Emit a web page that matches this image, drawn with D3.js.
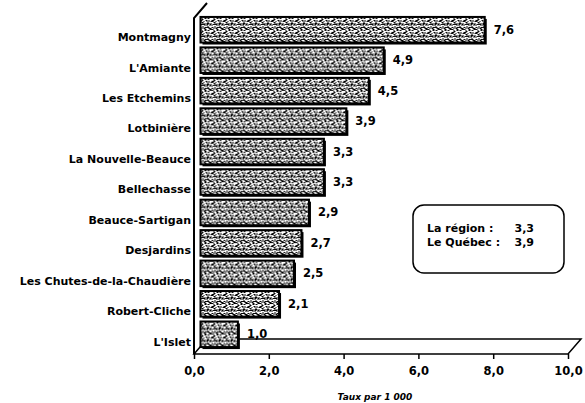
<!DOCTYPE html>
<html>
<head>
<meta charset="utf-8">
<script src="https://cdn.jsdelivr.net/npm/d3@7"></script>
<style>
    body { margin: 0; background: #fff; }
    text { font-family: "DejaVu Sans", "Liberation Sans", Arial, sans-serif; font-weight: bold; fill: #000; }
</style>
</head>
<body>
<div id="chart"></div>
<script>

// data
let regions = ["Montmagny", "L'Amiante", "Les Etchemins", "Lotbinière", "La Nouvelle-Beauce", "Bellechasse",
    "Beauce-Sartigan", "Desjardins", "Les Chutes-de-la-Chaudière", "Robert-Cliche", "L'Islet"];
let taux = [7.6, 4.9, 4.5, 3.9, 3.3, 3.3, 2.9, 2.7, 2.5, 2.1, 1.0];
let xTicks = [0, 2, 4, 6, 8, 10];
let legendLabels = ["La région :", "Le Québec  :"];
let legendValues = [3.3, 3.9];

let fmt = d => d3.format(".1f")(d).replace(".", ",");

let width = 585, height = 403;
let depth = {x: 13, y: -15};

let svg = d3.select("#chart").append("svg")
    .attr("width", width)
    .attr("height", height);

// speckled fill like the scanned bars
let pat = svg.append("defs").append("pattern")
    .attr("id", "speckle")
    .attr("patternUnits", "userSpaceOnUse")
    .attr("width", 12).attr("height", 12);
pat.append("rect").attr("width", 12).attr("height", 12).attr("fill", "#fff");
let dots = [[0,0,2,1],[3,1,1,3],[6,0,2,2],[9,1,2,1],[10,3,1,2],[1,3,2,2],[5,4,1,1],[7,3,2,1],
    [0,6,1,2],[2,7,3,1],[6,6,1,3],[8,6,2,2],[11,7,1,2],[1,10,2,1],[4,9,1,2],[7,10,3,1],
    [10,10,1,2],[3,5,1,1],[9,5,1,1],[5,11,2,1],[0,11,1,1],[8,8,1,1],[4,2,1,1],[2,0,1,1],
    [11,0,1,1],[5,7,1,1],[3,11,1,1],[9,9,1,1],[1,8,1,1],[7,1,1,1],[4,5,1,2],[10,6,1,1],
    [0,4,1,1],[6,10,1,1],[8,4,1,1],[11,11,1,1]];
pat.selectAll("rect.d").data(dots).enter().append("rect")
    .attr("class", "d")
    .attr("x", d => d[0]).attr("y", d => d[1])
    .attr("width", d => d[2]).attr("height", d => d[3])
    .attr("fill", "#000");

let x = d3.scaleLinear()
    .domain([0, 10])
    .range([194, 568]);

let y = d3.scaleBand()
    .domain(regions)
    .range([22, 357]);

let floorY = 354, wallTop = 18;

// floor + wall (3d frame)
let frame = svg.append("g")
    .attr("fill", "none")
    .attr("stroke", "#000")
    .attr("stroke-width", 1.5);

frame.append("path")
    .attr("d", `M${x(0)},${floorY}L${x(10)},${floorY}L${x(10) + depth.x},${floorY + depth.y}L${x(0) + depth.x},${floorY + depth.y}Z`);
frame.append("path")
    .attr("stroke-width", 2)
    .attr("d", `M${x(0) + depth.x},${wallTop + depth.y}L${x(0)},${wallTop}L${x(0)},${floorY}`);

// bars, drawn at mid depth
let barH = y.bandwidth() * 0.84;
let bx = depth.x / 2, by = depth.y / 2;

let bars = svg.append("g").selectAll("g.bar")
    .data(regions)
    .enter()
    .append("g")
    .attr("class", "bar")
    .attr("transform", d => `translate(${bx},${y(d) + y.bandwidth() / 2 + by - barH / 2})`);

bars.append("rect")
    .attr("x", x(0) + 2)
    .attr("y", 2)
    .attr("width", (d, i) => x(taux[i]) - x(0))
    .attr("height", barH)
    .attr("fill", "#000");

bars.append("rect")
    .attr("x", x(0))
    .attr("y", 0)
    .attr("width", (d, i) => x(taux[i]) - x(0))
    .attr("height", barH)
    .attr("fill", "url(#speckle)")
    .attr("stroke", "#000")
    .attr("stroke-width", 2);

bars.append("text")
    .attr("x", (d, i) => x(taux[i]) + 9)
    .attr("y", barH / 2)
    .attr("dy", "0.35em")
    .style("font-size", "11.5px")
    .text((d, i) => fmt(taux[i]));

// category labels
svg.append("g").selectAll("text")
    .data(regions)
    .enter()
    .append("text")
    .attr("x", 191)
    .attr("y", d => y(d) + y.bandwidth() / 2)
    .attr("dy", "0.35em")
    .attr("text-anchor", "end")
    .style("font-size", "11px")
    .text(d => d);

// x axis
let xAxis = svg.append("g")
    .attr("transform", `translate(0,${floorY})`)
    .call(d3.axisBottom(x).tickValues(xTicks).tickSize(5).tickPadding(8).tickFormat(fmt));
xAxis.select(".domain").remove();
xAxis.selectAll("line").attr("stroke-width", 1.5);
xAxis.selectAll("text")
    .style("font-family", "DejaVu Sans, Liberation Sans, Arial, sans-serif")
    .style("font-weight", "bold")
    .style("font-size", "11.5px");

svg.append("text")
    .attr("x", 375)
    .attr("y", 397)
    .attr("dy", "0.35em")
    .attr("text-anchor", "middle")
    .style("font-size", "9px")
    .style("font-style", "italic")
    .text("Taux par 1 000");

// legend box
let legend = svg.append("g").attr("transform", "translate(413,205)");
legend.append("rect")
    .attr("width", 151)
    .attr("height", 68)
    .attr("rx", 11)
    .attr("fill", "#fff")
    .attr("stroke", "#000")
    .attr("stroke-width", 1.5);

legend.selectAll("text.lab")
    .data(legendLabels)
    .enter()
    .append("text")
    .attr("class", "lab")
    .attr("x", 14)
    .attr("y", (d, i) => 23 + i * 14)
    .attr("dy", "0.35em")
    .style("font-size", "11px")
    .text(d => d);

legend.selectAll("text.val")
    .data(legendValues)
    .enter()
    .append("text")
    .attr("class", "val")
    .attr("x", 121)
    .attr("y", (d, i) => 23 + i * 14)
    .attr("dy", "0.35em")
    .attr("text-anchor", "end")
    .style("font-size", "11px")
    .text(d => fmt(d));

</script>
</body>
</html>
